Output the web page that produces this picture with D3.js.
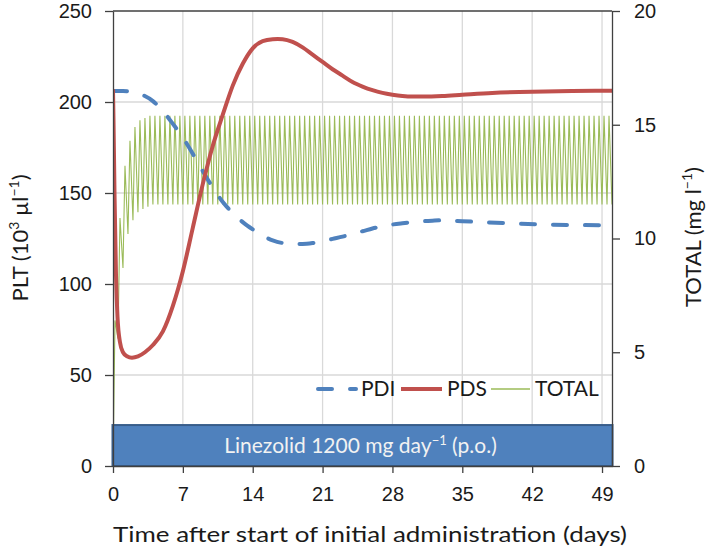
<!DOCTYPE html>
<html>
<head>
<meta charset="utf-8">
<script src="https://cdn.jsdelivr.net/npm/d3@7"></script>
<style>
  body { margin: 0; background: #fff; }
  svg { font-family: Lato, "Open Sans", sans-serif; }
  .axis text { font-size: 20px; fill: #1a1a1a; }
  .axis path, .axis line { stroke: #404040; stroke-width: 1.3; }
</style>
</head>
<body>
<div id="chart"></div>
<script>
// PDS (red) - time in days, PLT in 10^3/ul
var pdsT = [0, 0.05, 0.15, 0.3, 0.45, 0.7, 1.0, 1.4, 1.9, 2.5, 3.2, 4, 5, 6, 7, 8, 9, 10, 11, 12, 13, 14, 15, 16, 16.5, 17, 18, 19, 20, 21, 22, 23, 24, 25, 26, 27, 28, 29, 30, 31, 33, 35, 38, 42, 46, 50]
var pdsV = [207, 190, 150, 105, 82, 68, 62.5, 60.3, 59.5, 60.2, 62.5, 66.5, 74, 88, 107, 131, 155, 176, 193, 209, 221, 229.5, 233.5, 234.5, 234.6, 234.5, 233, 230, 226, 222, 218, 214.5, 211, 208.5, 206.5, 205, 204, 203.3, 203, 203, 203.3, 204, 205, 205.7, 206, 206.2]

// PDI (blue dashed)
var pdiT = [0, 1, 2, 3, 4, 5, 6, 7, 8, 9, 10, 11, 12, 13, 14, 15, 16, 17, 18, 19, 20, 21, 22, 23, 24, 25, 26, 27, 28, 29, 30, 31, 32, 33, 35, 37, 40, 43, 46, 50]
var pdiV = [206, 206, 205.3, 203.8, 200.5, 195, 188, 180.5, 171.5, 162, 153, 145, 139, 134, 130, 126.5, 124, 122.5, 122, 122, 122.5, 123.5, 124.8, 126, 127.6, 129, 130.5, 131.7, 132.7, 133.4, 134, 134.5, 134.8, 135, 134.5, 134, 133.3, 132.7, 132.4, 132.3]

// TOTAL (green, mg/l, right axis) - one peak and one trough per 12 h dose
var doseDays = 0.5
var peakDelay = 0.2
var totalPeaks = [6.4, 10.9, 13.2, 14.3, 14.9, 15.2, 15.3,
  15.4, 15.4, 15.4, 15.4, 15.4, 15.4, 15.4, 15.4, 15.4, 15.4,
  15.4, 15.4, 15.4, 15.4, 15.4, 15.4, 15.4, 15.4, 15.4, 15.4,
  15.4, 15.4, 15.4, 15.4, 15.4, 15.4, 15.4, 15.4, 15.4, 15.4,
  15.4, 15.4, 15.4, 15.4, 15.4, 15.4, 15.4, 15.4, 15.4, 15.4,
  15.4, 15.4, 15.4, 15.4, 15.4, 15.4, 15.4, 15.4, 15.4, 15.4,
  15.4, 15.4, 15.4, 15.4, 15.4, 15.4, 15.4, 15.4, 15.4, 15.4,
  15.4, 15.4, 15.4, 15.4, 15.4, 15.4, 15.4, 15.4, 15.4, 15.4,
  15.4, 15.4, 15.4, 15.4, 15.4, 15.4, 15.4, 15.4, 15.4, 15.4,
  15.4, 15.4, 15.4, 15.4, 15.4, 15.4, 15.4, 15.4, 15.4, 15.4,
  15.4, 15.4, 15.4]
var totalTroughs = [0, 5.6, 8.7, 10.2, 10.8, 11.15, 11.3, 11.4,
  11.5, 11.5, 11.5, 11.5, 11.5, 11.5, 11.5, 11.5, 11.5, 11.5,
  11.5, 11.5, 11.5, 11.5, 11.5, 11.5, 11.5, 11.5, 11.5, 11.5,
  11.5, 11.5, 11.5, 11.5, 11.5, 11.5, 11.5, 11.5, 11.5, 11.5,
  11.5, 11.5, 11.5, 11.5, 11.5, 11.5, 11.5, 11.5, 11.5, 11.5,
  11.5, 11.5, 11.5, 11.5, 11.5, 11.5, 11.5, 11.5, 11.5, 11.5,
  11.5, 11.5, 11.5, 11.5, 11.5, 11.5, 11.5, 11.5, 11.5, 11.5,
  11.5, 11.5, 11.5, 11.5, 11.5, 11.5, 11.5, 11.5, 11.5, 11.5,
  11.5, 11.5, 11.5, 11.5, 11.5, 11.5, 11.5, 11.5, 11.5, 11.5,
  11.5, 11.5, 11.5, 11.5, 11.5, 11.5, 11.5, 11.5, 11.5, 11.5,
  11.5, 11.5, 11.5]

var xTicks = [0, 7, 14, 21, 28, 35, 42, 49]
var yTicks = [0, 50, 100, 150, 200, 250]
var y2Ticks = [0, 5, 10, 15, 20]
var barDays = [0, 50]
var barPLT = 22.5

var W = 709, H = 551
var mLeft = 113, mRight = 612, mTop = 11, mBottom = 466

var svg = d3.select("#chart").append("svg").attr("width", W).attr("height", H)

var x = d3.scaleLinear().domain([0, 50]).range([mLeft, mRight])
var y = d3.scaleLinear().domain([0, 250]).range([mBottom, mTop])
var y2 = d3.scaleLinear().domain([0, 20]).range([mBottom, mTop])

// grid
svg.append("g").selectAll("line").data(yTicks.slice(1, -1)).enter().append("line")
	.attr("x1", mLeft).attr("x2", mRight)
	.attr("y1", function(d){return y(d)}).attr("y2", function(d){return y(d)})
	.attr("stroke", "#d9d9d9").attr("stroke-width", 1.3)
svg.append("g").selectAll("line").data(xTicks.slice(1)).enter().append("line")
	.attr("x1", function(d){return x(d)}).attr("x2", function(d){return x(d)})
	.attr("y1", mTop).attr("y2", mBottom)
	.attr("stroke", "#d9d9d9").attr("stroke-width", 1.3)

// TOTAL series points
var totalData = []
for (var k = 0; k < totalTroughs.length; k++) {
	totalData.push({t: k * doseDays, v: totalTroughs[k]})
	if (k < totalPeaks.length) totalData.push({t: k * doseDays + peakDelay, v: totalPeaks[k]})
}

svg.append("clipPath").attr("id", "clip").append("rect")
	.attr("x", mLeft).attr("y", mTop).attr("width", mRight - mLeft).attr("height", mBottom - mTop)
var plot = svg.append("g").attr("clip-path", "url(#clip)")

plot.append("path").datum(totalData)
	.attr("d", d3.line().x(function(d){return x(d.t)}).y(function(d){return y2(d.v)}))
	.attr("fill", "none").attr("stroke", "#9bbb59").attr("stroke-width", 1.1)

var pdi = pdiT.map(function(t, i){return [t, pdiV[i]]})
plot.append("path").datum(pdi)
	.attr("d", d3.line().curve(d3.curveMonotoneX).x(function(d){return x(d[0])}).y(function(d){return y(d[1])}))
	.attr("fill", "none").attr("stroke", "#4f81bd").attr("stroke-width", 4)
	.attr("stroke-dasharray", "14,18").attr("stroke-linecap", "round")

var pds = pdsT.map(function(t, i){return [t, pdsV[i]]})
plot.append("path").datum(pds)
	.attr("d", d3.line().curve(d3.curveMonotoneX).x(function(d){return x(d[0])}).y(function(d){return y(d[1])}))
	.attr("fill", "none").attr("stroke", "#c0504d").attr("stroke-width", 4)
	.attr("stroke-linejoin", "round")

// treatment bar
svg.append("rect")
	.attr("x", x(barDays[0]) - 0.5).attr("y", y(barPLT))
	.attr("width", x(barDays[1]) - x(barDays[0]) + 1).attr("height", y(0) - y(barPLT))
	.attr("fill", "#4f81bd").attr("stroke", "#385d8a").attr("stroke-width", 2)
var barText = svg.append("text")
	.attr("x", x((barDays[0] + barDays[1]) / 2) - 2).attr("y", (y(barPLT) + y(0)) / 2 + 7)
	.attr("text-anchor", "middle").attr("fill", "#f2f2f2").attr("font-size", 21)
barText.append("tspan").text("Linezolid 1200 mg day")
barText.append("tspan").attr("font-size", 13).attr("dy", -8).text("\u22121")
barText.append("tspan").attr("dy", 8).text(" (p.o.)")

// frame top line
svg.append("line").attr("x1", mLeft).attr("x2", mRight).attr("y1", mTop).attr("y2", mTop)
	.attr("stroke", "#404040").attr("stroke-width", 1.3)

// axes
svg.append("g").attr("class", "axis").attr("transform", "translate(0," + mBottom + ")")
	.call(d3.axisBottom(x).tickValues(xTicks).tickSize(7).tickPadding(14).tickSizeOuter(0))
svg.append("g").attr("class", "axis").attr("transform", "translate(" + mLeft + ",0)")
	.call(d3.axisLeft(y).tickValues(yTicks).tickSize(8).tickPadding(13).tickSizeOuter(0))
svg.append("g").attr("class", "axis").attr("transform", "translate(" + mRight + ",0)")
	.call(d3.axisRight(y2).tickValues(y2Ticks).tickSize(8).tickPadding(14).tickSizeOuter(0))

// axis titles
svg.append("text").attr("x", 370).attr("y", 542).attr("text-anchor", "middle")
	.attr("font-size", 21).attr("fill", "#1a1a1a")
	.attr("textLength", 514).attr("lengthAdjust", "spacingAndGlyphs")
	.text("Time after start of initial administration (days)")

var lt = svg.append("text").attr("transform", "translate(28,238) rotate(-90)")
	.attr("text-anchor", "middle").attr("font-size", 22).attr("fill", "#1a1a1a")
lt.append("tspan").text("PLT (10")
lt.append("tspan").attr("font-size", 14).attr("dy", -9).text("3")
lt.append("tspan").attr("dy", 9).text(" \u00b5l")
lt.append("tspan").attr("font-size", 14).attr("dy", -9).text("\u22121")
lt.append("tspan").attr("dy", 9).text(")")

var rt = svg.append("text").attr("transform", "translate(701,237) rotate(-90)")
	.attr("text-anchor", "middle").attr("font-size", 22).attr("fill", "#1a1a1a")
rt.append("tspan").text("TOTAL (mg l")
rt.append("tspan").attr("font-size", 14).attr("dy", -9).text("\u22121")
rt.append("tspan").attr("dy", 9).text(")")

// legend
var legY = 389
var legend = [
	{name: "PDI", x0: 318, x1: 356, tx: 361, color: "#4f81bd", w: 4, dash: "14,18"},
	{name: "PDS", x0: 401, x1: 442, tx: 447, color: "#c0504d", w: 4, dash: null},
	{name: "TOTAL", x0: 491, x1: 530, tx: 535, color: "#9bbb59", w: 1.3, dash: null}
]
var lg = svg.append("g").selectAll("g").data(legend).enter().append("g")
lg.append("line")
	.attr("x1", function(d){return d.x0}).attr("x2", function(d){return d.x1})
	.attr("y1", legY).attr("y2", legY)
	.attr("stroke", function(d){return d.color}).attr("stroke-width", function(d){return d.w})
	.attr("stroke-dasharray", function(d){return d.dash})
	.attr("stroke-linecap", function(d){return d.dash ? "round" : "butt"})
lg.append("text").attr("x", function(d){return d.tx}).attr("y", legY + 7)
	.attr("font-size", 21).attr("fill", "#1a1a1a")
	.text(function(d){return d.name})
</script>
</body>
</html>
